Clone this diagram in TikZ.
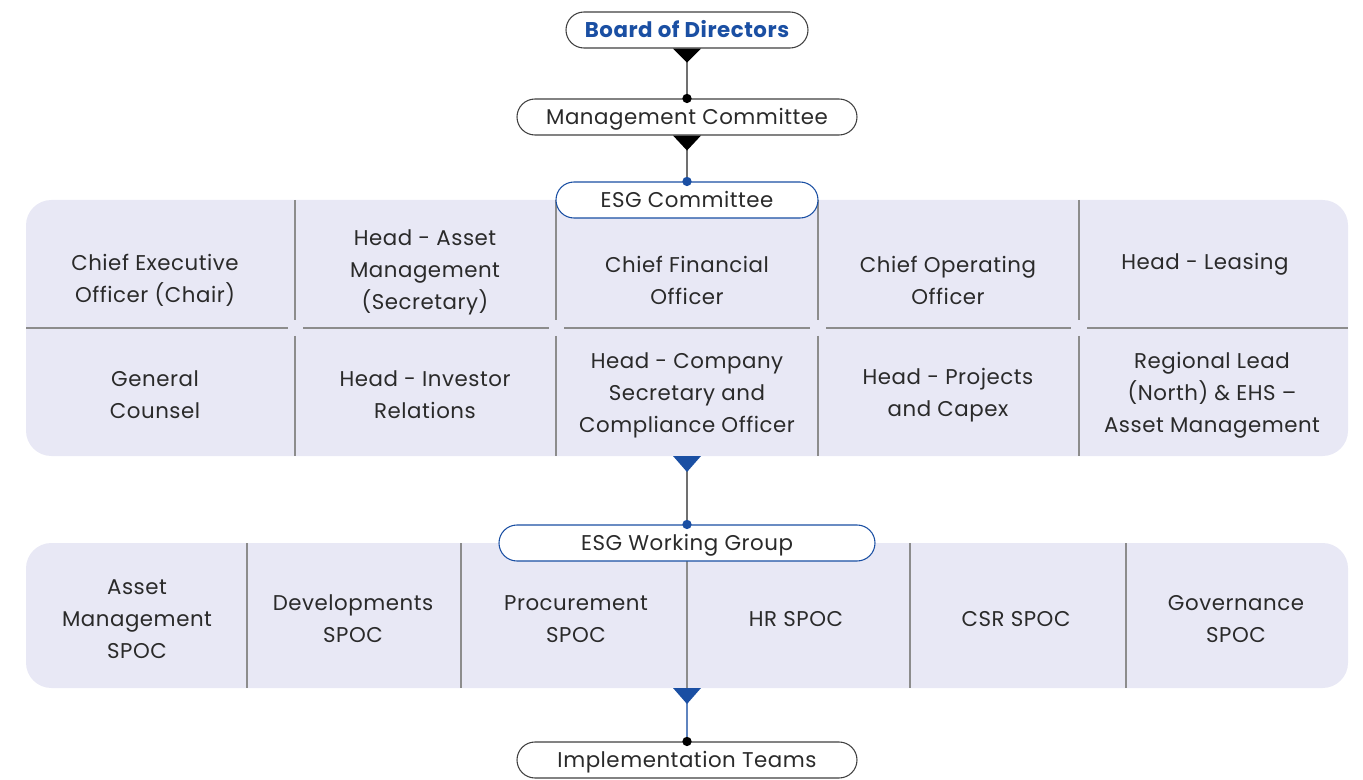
\documentclass[tikz,border=0pt]{standalone}
\usepackage{fontspec}
\setmainfont{Poppins}[LetterSpace=2.5]
\usetikzlibrary{positioning}
\definecolor{esgblue}{HTML}{1A4FA3}
\definecolor{panelfill}{HTML}{E8E8F5}
\definecolor{divgray}{HTML}{8C8C8C}
\definecolor{txt}{HTML}{2A2A2A}
\tikzset{
  pill/.style={draw=#1, fill=white, line width=0.8pt, rounded corners=13.5pt, minimum height=27pt, inner sep=0pt, text height=11pt, text depth=0pt, font=\fontsize{16}{24}\selectfont, text=txt},
  cell/.style={align=center, font=\fontsize{16}{24}\selectfont, text=txt, inner sep=0pt},
  panel/.style={fill=panelfill, rounded corners=19pt},
  divider/.style={draw=divgray, line width=0.8pt},
  conn/.style={draw=divgray!80!black, line width=1pt},
}
\begin{document}
\begin{tikzpicture}[x=0.75pt, y=-0.75pt]
\useasboundingbox (0,0) rectangle (1363,780);
% panels
\fill[panel] (26,200) rectangle (1348,456);
\fill[panel] (26,543) rectangle (1348,688);
% panel 1 dividers
\foreach \x in {295,556,818,1079} {
  \draw[divider] (\x,200) -- (\x,320);
  \draw[divider] (\x,336) -- (\x,456);
}
\draw[divider] (26,328) -- (288,328);
\draw[divider] (303,328) -- (549,328);
\draw[divider] (564,328) -- (810,328);
\draw[divider] (826,328) -- (1071,328);
\draw[divider] (1087,328) -- (1348,328);
% panel 2 dividers
\foreach \x in {247,461,910,1126} {
  \draw[divider] (\x,543) -- (\x,688);
}
\draw[divider] (687,561) -- (687,688);
% pills
\node[pill=black!75, minimum width=181.5pt, font=\fontsize{16}{24}\selectfont\bfseries, text=esgblue] (board) at (687,30) {Board of Directors};
\node[pill=black!75, minimum width=255pt] (mgmt) at (687,117) {Management Committee};
\node[pill=esgblue, minimum width=196.5pt] (esgc) at (687,200) {ESG Committee};
\node[pill=esgblue, minimum width=282pt] (esgwg) at (687,543) {ESG Working Group};
\node[pill=black!75, minimum width=255pt] (impl) at (687,760) {Implementation Teams};
% committee cells
\node[cell] (c11) at (155,280) {Chief Executive\\Officer (Chair)};
\node[cell] (c12) at (425,272) {Head - Asset\\Management\\(Secretary)};
\node[cell] (c13) at (687,280) {Chief Financial\\Officer};
\node[cell] (c14) at (948,280) {Chief Operating\\Officer};
\node[cell] (c15) at (1205,264) {Head - Leasing};
\node[cell] (c21) at (155,395) {General\\Counsel};
\node[cell] (c22) at (425,395) {Head - Investor\\Relations};
\node[cell] (c23) at (687,395) {Head - Company\\Secretary and\\Compliance Officer};
\node[cell] (c24) at (948,395) {Head - Projects\\and Capex};
\node[cell] (c25) at (1212,395) {Regional Lead\\(North) \& EHS –\\Asset Management};
% working group cells
\node[cell] (w1) at (137,619) {Asset\\Management\\SPOC};
\node[cell] (w2) at (353,619) {Developments\\SPOC};
\node[cell] (w3) at (576,619) {Procurement\\SPOC};
\node[cell] (w4) at (796,619) {HR SPOC};
\node[cell] (w5) at (1016,619) {CSR SPOC};
\node[cell] (w6) at (1236,619) {Governance\\SPOC};
% anchors for panel bottoms
\coordinate (p1b) at (687,456);
\coordinate (p2b) at (687,688);
% connectors
\draw[conn] (board.south) -- (mgmt.north);
\fill[black] (board.south) ++(-14,0) -- ++(28,0) -- ++(-14,14) -- cycle;
\fill[black] (mgmt.north) circle (3.5pt);
\draw[conn] (mgmt.south) -- (esgc.north);
\fill[black] (mgmt.south) ++(-14,0) -- ++(28,0) -- ++(-14,15) -- cycle;
\fill[esgblue] (esgc.north) circle (3.5pt);
\draw[conn] (p1b) -- (esgwg.north);
\fill[esgblue] (p1b) ++(-14,0) -- ++(28,0) -- ++(-14,16) -- cycle;
\fill[esgblue] (esgwg.north) circle (3.5pt);
\draw[draw=esgblue!70, line width=1pt] (p2b) -- (impl.north);
\fill[esgblue] (p2b) ++(-14,0) -- ++(28,0) -- ++(-14,16) -- cycle;
\fill[black] (impl.north) circle (3.5pt);
\end{tikzpicture}
\end{document}
